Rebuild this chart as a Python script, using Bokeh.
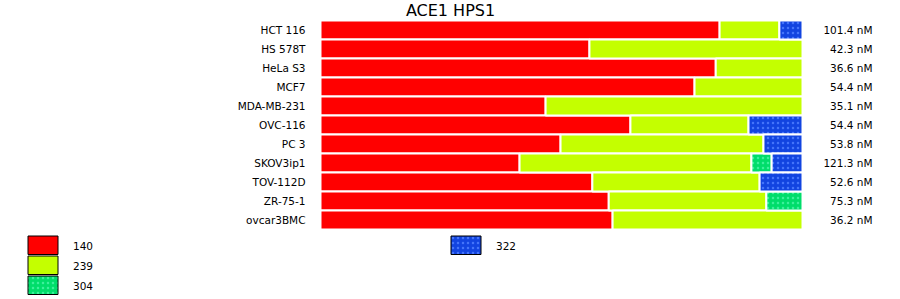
from bokeh.plotting import figure
from bokeh.models import ColumnDataSource, Range1d, Label
from bokeh.core.properties import value
from bokeh.embed import file_html
from bokeh.resources import INLINE

chart_title = "ACE1 HPS1"
cell_lines = ["HCT 116", "HS 578T", "HeLa S3", "MCF7", "MDA-MB-231", "OVC-116",
              "PC 3", "SKOV3ip1", "TOV-112D", "ZR-75-1", "ovcar3BMC"]
series = ["140", "239", "304", "322"]
share_140 = [82.8, 55.8, 82.0, 77.6, 46.7, 64.3, 49.8, 41.3, 56.4, 59.8, 60.6]
share_239 = [12.4, 44.2, 18.0, 22.4, 53.3, 24.5, 42.1, 48.1, 34.7, 32.7, 39.4]
share_304 = [0.0, 0.0, 0.0, 0.0, 0.0, 0.0, 0.0, 4.2, 0.0, 7.5, 0.0]
share_322 = [4.8, 0.0, 0.0, 0.0, 0.0, 11.2, 8.1, 6.4, 8.9, 0.0, 0.0]
ic50_labels = ["101.4 nM", "42.3 nM", "36.6 nM", "54.4 nM", "35.1 nM", "54.4 nM",
               "53.8 nM", "121.3 nM", "52.6 nM", "75.3 nM", "36.2 nM"]

shares = [share_140, share_239, share_304, share_322]
fills = ["#ff0000", "#c4ff00", "#00dd6a", "#1244e0"]
hatch_colors = [None, None, "#3cf09c", "#4474fa"]
hatches = [" ", " ", "dot", "dot"]

FONT = "DejaVu Sans"
W, H = 900, 299
# geometry of the bar block on the canvas (pixels)
BAR_LEFT_PX, BAR_RIGHT_PX = 320, 802
ROW_TOP_PX, ROW_PX = 20, 19
# legend geometry (pixels)
LEG_X0, LEG_COL_PX, LEG_Y0, LEG_ROW_PX = 27.5, 423, 235.5, 20
SW_W, SW_H, LABEL_DX = 30, 18.5, 45
LEG_ROWS = 3

px_per_unit = (BAR_RIGHT_PX - BAR_LEFT_PX) / 100.0
x_start = -BAR_LEFT_PX / px_per_unit
x_end = 100 + (W - BAR_RIGHT_PX) / px_per_unit
# row index i is centred at ROW_TOP_PX + ROW_PX*(i+0.5); y axis runs downwards
y_top = -(ROW_TOP_PX / ROW_PX) - 0.5
y_bottom = y_top + H / ROW_PX


def px_to_x(px):
    return (px - BAR_LEFT_PX) / px_per_unit


def px_to_y(py):
    return (py - ROW_TOP_PX) / ROW_PX - 0.5


p = figure(width=W, height=H, output_backend="svg", toolbar_location=None,
           x_range=Range1d(x_start, x_end),
           y_range=Range1d(y_bottom, y_top),
           x_axis_location=None, y_axis_location=None,
           min_border=0)
p.outline_line_color = None
p.xgrid.visible = False
p.ygrid.visible = False
p.background_fill_color = "white"
p.border_fill_color = "white"

rows = list(range(len(cell_lines)))


def hatch_kw(k):
    if hatches[k] == " ":
        return {}
    return dict(hatch_pattern=hatches[k], hatch_color=hatch_colors[k],
                hatch_scale=5, hatch_weight=4)


left = [0.0] * len(cell_lines)
for k, name in enumerate(series):
    ys, l, r = [], [], []
    for i in rows:
        v = shares[k][i]
        if v > 0:
            ys.append(i)
            l.append(left[i])
            r.append(left[i] + v)
        left[i] += v
    src = ColumnDataSource(dict(y=ys, left=l, right=r))
    p.hbar(y="y", left="left", right="right", height=1, source=src,
           fill_color=fills[k], line_color="white", line_width=2, **hatch_kw(k))

totals = list(left)

# category labels to the left of the bars
cat_src = ColumnDataSource(dict(y=rows, x=[0.0] * len(rows), text=cell_lines))
p.text(x="x", y="y", text="text", source=cat_src, x_offset=-15,
       text_align="right", text_baseline="middle",
       text_font=value(FONT), text_font_size="10.5px", text_color="#000000")

# value labels at the end of each bar
lab_src = ColumnDataSource(dict(y=rows, x=totals, text=ic50_labels))
p.text(x="x", y="y", text="text", source=lab_src, x_offset=70,
       text_align="right", text_baseline="middle",
       text_font=value(FONT), text_font_size="10.5px", text_color="#000000")

# title
p.add_layout(Label(x=W / 2, y=H - 10, x_units="screen", y_units="screen", text=chart_title,
                   text_align="center", text_baseline="middle",
                   text_font=FONT, text_font_size="16px", text_color="#000000"))

# legend: swatches laid out column-wise, 3 rows per column
for k, name in enumerate(series):
    col, row = divmod(k, LEG_ROWS)
    x0 = LEG_X0 + col * LEG_COL_PX
    y0 = LEG_Y0 + row * LEG_ROW_PX
    sw = ColumnDataSource(dict(left=[px_to_x(x0)], right=[px_to_x(x0 + SW_W)],
                               top=[px_to_y(y0)], bottom=[px_to_y(y0 + SW_H)]))
    p.quad(left="left", right="right", top="top", bottom="bottom", source=sw,
           fill_color=fills[k], line_color="black", line_width=1, **hatch_kw(k))
    ts = ColumnDataSource(dict(x=[px_to_x(x0 + LABEL_DX)],
                               y=[px_to_y(y0 + SW_H / 2 + 1)], text=[name]))
    p.text(x="x", y="y", text="text", source=ts, text_align="left",
           text_baseline="middle", text_font=value(FONT), text_font_size="10.5px",
           text_color="#000000")

open("out.html", "w").write(file_html(p, INLINE))
